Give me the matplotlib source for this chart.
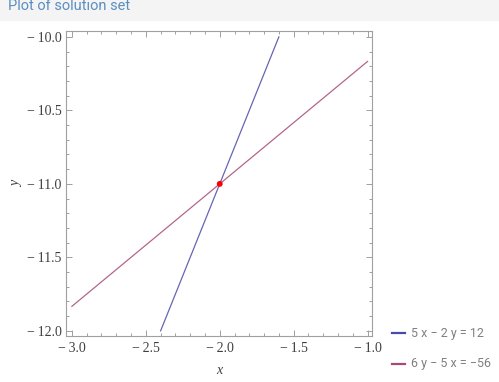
import numpy as np
import matplotlib
matplotlib.use("Agg")
import matplotlib.pyplot as plt
from matplotlib.patches import Rectangle
from matplotlib.ticker import MultipleLocator, FuncFormatter

# line endpoints
line1_x = [-2.4, -1.6]
line1_y = [-12.0, -10.0]
line2_x = [-3.0, -1.0]
line2_y = [-11.833, -10.167]
sol_x = [-2.0]
sol_y = [-11.0]
labels = ["5 x \u2212 2 y = 12", "6 y \u2212 5 x = \u221256"]

blue = "#4a4aa8"
pink = "#a84a78"
frame_gray = "#a0a0a0"
text_gray = "#404040"

fig = plt.figure(figsize=(4.99, 3.82), dpi=100)
fig.patch.set_facecolor("white")

# header band
fig.patches.append(Rectangle((0, 1 - 21 / 382), 1, 21 / 382, transform=fig.transFigure,
                             facecolor="#f4f4f4", edgecolor="none", zorder=0))
fig.text(8 / 499, 1 - 10 / 382, "Plot of solution set", color="#5b8ec0",
         fontsize=10.5, family="Roboto", va="baseline", ha="left")

ax = fig.add_axes([66 / 499, 46 / 382, 306 / 499, 305 / 382])
ax.plot(line1_x, line1_y, color=blue, lw=0.9, alpha=0.85)
ax.plot(line2_x, line2_y, color=pink, lw=0.9, alpha=0.85)
ax.scatter(sol_x, sol_y, color="#ff0000", s=18, zorder=5, edgecolors="none")

ax.set_xlim(-3.04, -0.97)
ax.set_ylim(-12.035, -9.96)

ax.xaxis.set_major_locator(MultipleLocator(0.5))
ax.xaxis.set_minor_locator(MultipleLocator(0.1))
ax.yaxis.set_major_locator(MultipleLocator(0.5))
ax.yaxis.set_minor_locator(MultipleLocator(0.1))
fmt = FuncFormatter(lambda v, p: ("\u2212\u2009" if v < 0 else "") + f"{abs(v):.1f}")
ax.xaxis.set_major_formatter(fmt)
ax.yaxis.set_major_formatter(fmt)

ax.tick_params(which="both", direction="in", top=True, right=True, color=frame_gray,
               width=0.7)
ax.tick_params(which="major", length=4.5, labelsize=10, labelcolor=text_gray, pad=3)
ax.tick_params(which="minor", length=2.5)
ax.tick_params(axis="x", top=True, labeltop=False, pad=4)
ax.tick_params(axis="y", right=True, labelright=False)
for lab in ax.get_xticklabels() + ax.get_yticklabels():
    lab.set_family("Liberation Serif")
for s in ax.spines.values():
    s.set_color(frame_gray)
    s.set_linewidth(0.8)

ax.set_xlabel("x", family="Liberation Serif", style="italic", color=text_gray,
              fontsize=10, labelpad=7)
ax.set_ylabel("y", family="Liberation Serif", style="italic", color=text_gray,
              fontsize=10, rotation=90, labelpad=3)

# legend drawn by hand to the right of the frame
for i, (lab, col) in enumerate(zip(labels, [blue, pink])):
    yy = 1 - (333 + 31 * i) / 382
    fig.add_artist(plt.Line2D([392 / 499, 405 / 499], [yy, yy], color=col, lw=1.6,
                              transform=fig.transFigure))
    fig.text(411 / 499, yy, lab, color="#808080", fontsize=9, family="Roboto",
             va="center", ha="left")

fig.savefig("out.png", dpi=100)
